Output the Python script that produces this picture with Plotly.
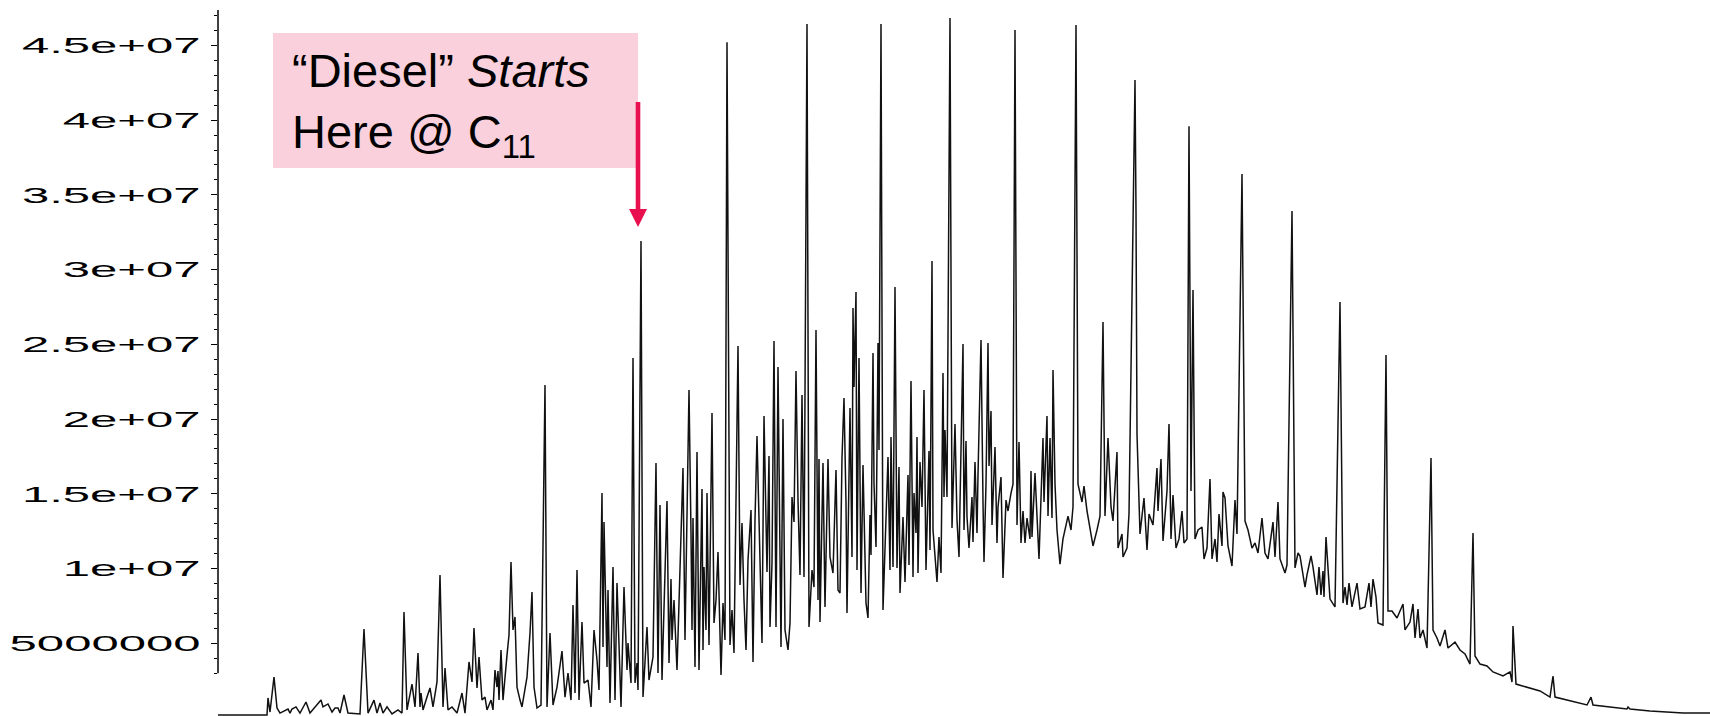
import numpy as np
import plotly.graph_objects as go

# ---------------- data: GC-FID chromatogram of diesel (retention time in s, abundance in millions) ----------------
rt_a = [0,49,50,52,56,59,62,70,72,74,78,82,88,92,103,105,110,114,117,120,122,126,130,142,146,150,156,159,162,165,
        169,174,180,184,186,189,194,197,200,202,203,205,209,212,215,219,222,225,227,230,234,239,244,247,251,254,256,259,261,264,
        267,269,273,275,277,279,280,281,283,285,289,291,293,295,297,299,302,304,309,312,314,316,319,323,327,329,332,335,339]
ab_a = [0.20,0.20,1.34,0.40,2.74,0.67,0.33,0.60,0.33,0.60,0.74,0.33,1.07,0.33,1.20,0.74,0.94,0.40,0.67,0.67,0.33,1.54,0.33,0.27,5.95,0.33,1.20,0.33,1.00,0.33,
        0.74,0.27,0.54,0.33,7.09,0.54,2.27,0.74,4.35,0.74,1.67,0.54,1.40,2.01,0.74,2.41,9.57,0.74,3.35,0.54,0.74,0.33,1.67,0.33,3.75,2.41,6.02,2.01,4.08,1.20,
        1.40,0.54,1.20,0.54,3.21,2.07,3.14,1.20,4.55,1.20,4.21,5.55,10.44,5.89,6.76,2.07,1.20,0.74,2.74,5.69,8.43,2.07,0.67,0.87,22.28,0.74,5.69,0.87,2.07]

rt_b = [344,347,350,353,355,357,359,361,364,366,370,373,376,379,381,384,385,386,389,390,
        392,395,397,399,403,406,409,410,413,415,417,419,420,423,425,429,431,435,438,440]
ab_b = [4.48,1.40,3.01,1.20,7.56,1.67,9.90,1.20,6.42,2.34,2.54,0.74,5.89,3.88,1.87,15.05,4.75,13.11,3.41,8.56,
        1.00,10.10,1.20,9.03,0.74,8.76,3.21,5.02,2.34,24.08,2.34,3.68,1.87,31.91,1.40,6.09,2.54,4.08,17.06,3.01]

rt_c = [442,444,449,451,453,454,456,459,465,467,471,473,474,475,477,479,481,484,485,486,
        488,489,491,494,496,498,500,503,505,507,509,512,514,516,520,522,524,526,528,530,
        533,535,537,539,542,544,546,549,551,552,554,556,558,560,563,565,567,570,572,574,
        576,578,580,582,584,586,589,591,594,596,598,599,600,601,602,605,607,610]
ab_c = [14.25,2.54,14.52,3.68,9.30,5.22,7.89,3.21,16.73,5.22,21.94,12.38,5.89,13.38,3.41,17.80,3.21,15.32,4.55,10.10,
        5.89,15.05,4.88,20.40,6.36,7.89,11.11,2.88,7.69,5.22,45.22,4.88,7.23,4.35,24.89,8.90,13.05,7.89,4.55,10.57,
        13.92,3.75,13.25,18.87,9.23,5.02,20.20,9.77,17.53,6.09,10.37,25.22,6.09,23.48,4.75,20.00,5.89,4.55,6.36,14.78,
        13.11,23.21,14.58,9.57,21.61,9.43,46.43,6.09,9.90,8.76,25.96,17.39,7.89,17.33,6.42,17.06,7.43,17.33]

rt_d = [612,615,618,620,622,624,626,628,629,632,634,635,636,638,639,641,643,645,648,650,
        652,653,655,656,658,659,660,661,663,665,667,670,672,673,675,677,679,681,682,684,
        685,687,690,691,693,695,696,698,699,700,702,704,706,708,711,712,714,715,719,721,
        723,725,726,727,729,732,734,737,739,741,745,746,748,749,751,754,755,757,759]
ab_d = [10.77,9.70,16.59,8.56,8.36,17.39,21.41,14.38,7.02,20.74,10.77,27.43,22.14,28.50,9.90,24.08,8.36,16.93,7.69,6.69,
        13.58,10.90,24.42,15.72,11.44,17.93,25.09,17.93,46.43,7.23,11.24,17.46,9.90,18.80,10.10,28.83,10.04,16.79,8.36,12.78,
        13.45,9.10,16.26,10.24,22.55,9.43,15.05,12.38,18.80,9.70,17.13,14.12,21.94,9.90,17.86,11.24,30.57,12.58,9.10,12.11,
        9.70,23.08,14.78,19.27,14.78,46.83,12.71,19.67,13.25,10.77,25.02,12.58,18.53,13.45,11.37,14.78,11.77,17.13,12.38]

rt_e = [760,763,765,766,768,770,771,773,774,777,779,780,783,785,788,790,793,795,797,799,
        801,803,805,807,809,812,813,814,817,819,821,825,826,829,830,832,834,835,837,839,
        842,845,850,853,855,858,860,864,866,869,872,875,879,882,885,887,890,893,895,899,
        900,904,905,909,911,917,918,919,922,926,929,931,935,939,940,943,945,949,951,953,
        955,958,961,964,966,969,971,973,975,977,980,984,986,989,992,994,997,999,1001,1004,
        1005,1007,1010,1014,1017,1019,1024,1027,1030,1034,1037,1040,1044,1047,1050,1055,1057,1060,1062,1067,
        1069,1074,1077,1080]
ab_e = [16.26,25.29,14.45,10.44,15.65,25.09,16.86,20.54,12.91,18.13,11.71,14.12,16.12,9.37,14.58,13.85,15.05,15.65,46.03,12.91,
        18.46,11.71,13.85,11.71,13.38,11.98,16.52,12.11,16.39,13.85,10.64,18.73,14.45,20.20,13.51,18.73,13.38,23.28,15.65,12.58,
        10.30,11.98,13.51,12.58,14.12,46.36,15.65,14.45,15.52,13.85,12.58,11.51,12.58,13.51,26.49,13.51,18.73,14.12,13.18,17.80,
        11.37,12.31,10.77,11.37,13.65,42.68,33.85,19.00,12.31,14.72,11.24,13.65,12.91,16.73,13.85,17.33,11.84,15.19,19.67,11.98,
        14.92,11.37,11.98,13.85,11.71,11.98,39.60,15.19,28.63,11.98,12.58,12.78,10.64,11.37,15.99,10.64,11.98,10.44,13.65,11.51,
        15.12,14.72,11.51,10.17,14.58,12.31,36.39,13.18,12.58,11.37,11.71,11.04,13.38,11.04,10.64,13.11,10.77,14.45,10.64,9.70,
        10.24,33.92,10.04,11.04]

rt_f = [1082,1085,1087,1089,1093,1095,1099,1101,1103,1105,1106,1108,1110,1112,1117,1122,1125,1127,1129,1131,
        1134,1139,1142,1147,1151,1153,1155,1158,1160,1165,1168,1170,1174,1179,1185,1187,1192,1195,1197,1200,
        1202,1205,1209,1213,1215,1219,1222,1227,1230,1237,1242,1247,1252,1255,1257,1262,1269,1275,1285,1292,
        1294,1295,1298,1309,1322,1332,1335,1337,1352,1369,1373,1375,1392,1409,1410,1412,1432,1465,1492]
ab_f = [10.84,9.57,8.76,9.57,10.84,10.10,8.23,10.10,8.23,9.83,8.09,12.11,9.57,7.96,7.43,27.83,7.69,8.76,7.56,9.03,
        7.43,9.03,7.29,7.43,9.03,7.43,9.30,8.09,6.36,6.22,24.28,7.16,7.16,6.69,7.63,5.89,6.42,7.63,5.35,7.29,
        5.35,5.89,4.68,17.39,5.89,5.35,4.82,5.89,4.68,5.08,4.55,4.28,3.61,12.38,4.15,3.61,3.48,3.08,2.81,3.08,
        2.41,6.15,2.27,2.07,1.81,1.40,2.81,1.40,1.14,0.87,1.40,0.87,0.74,0.60,0.74,0.60,0.47,0.33,0.33]

tick_values = [5e6, 1e7, 1.5e7, 2e7, 2.5e7, 3e7, 3.5e7, 4e7, 4.5e7]
tick_labels = ["5000000", "1e+07", "1.5e+07", "2e+07", "2.5e+07", "3e+07", "3.5e+07", "4e+07", "4.5e+07"]
minor_tick_values = [v * 1e6 for v in range(3, 48) if v % 5 != 0]

annotation_text = "“Diesel” <i>Starts</i><br>Here @ C<sub>11</sub>"

# ---------------- assemble ----------------
segments = [(rt_a, ab_a), (rt_b, ab_b), (rt_c, ab_c), (rt_d, ab_d), (rt_e, ab_e), (rt_f, ab_f)]
for r, a in segments:
    assert len(r) == len(a), (len(r), len(a))
rt = np.concatenate([np.array(r, float) for r, _ in segments])
abundance = np.concatenate([np.array(a, float) for _, a in segments]) * 1e6

W, H = 1710, 716
ML, MT = 218, 10
PW, PH = W - ML, H - MT
Y_MIN, Y_MAX = 0.134e6, 47.37e6


def paper_x(px):
    return (px - ML) / PW


def paper_y(py):
    return (H - py) / PH


FONT = "Liberation Sans, Arial, Helvetica, sans-serif"
ARROW_RED = "#E8104F"

arrow_head = "M {:.5f} {:.5f} L {:.5f} {:.5f} L {:.5f} {:.5f} Z".format(
    paper_x(629), paper_y(209), paper_x(647), paper_y(209), paper_x(638), paper_y(227))

fig = go.Figure()
fig.add_trace(go.Scatter(x=rt, y=abundance, mode="lines",
                         line=dict(color="#111111", width=1.5),
                         hoverinfo="skip", showlegend=False))

fig.update_layout(
    width=W, height=H,
    margin=dict(l=ML, r=0, t=MT, b=0, pad=0),
    paper_bgcolor="white", plot_bgcolor="white",
    showlegend=False,
    xaxis=dict(visible=False, range=[0, 1492]),
    yaxis=dict(
        range=[Y_MIN, Y_MAX],
        tickmode="array", tickvals=tick_values, ticktext=tick_labels,
        ticks="outside", ticklen=6, tickwidth=1.2, tickcolor="black",
        showline=False, showgrid=False, zeroline=False,
        tickfont=dict(family=FONT, size=22, color="black"),
        ticklabelstandoff=6,
        minor=dict(tickmode="array", tickvals=minor_tick_values, ticks="outside",
                   ticklen=3.5, tickwidth=1, tickcolor="black", showgrid=False),
    ),
    shapes=[
        dict(type="line", xref="paper", yref="y", x0=0, x1=0, y0=3e6, y1=Y_MAX,
             line=dict(color="black", width=1.5)),
        dict(type="rect", xref="paper", yref="paper",
             x0=paper_x(273), x1=paper_x(638), y0=paper_y(168), y1=paper_y(33),
             fillcolor="#F9D0DC", line=dict(width=0), layer="below"),
        dict(type="line", xref="paper", yref="paper",
             x0=paper_x(638), x1=paper_x(638), y0=paper_y(102), y1=paper_y(211),
             line=dict(color=ARROW_RED, width=4.6)),
        dict(type="path", xref="paper", yref="paper", path=arrow_head,
             fillcolor=ARROW_RED, line=dict(width=0)),
    ],
    annotations=[
        dict(xref="paper", yref="paper", x=paper_x(290), y=paper_y(104),
             xanchor="left", yanchor="middle", align="left", showarrow=False,
             text=annotation_text, font=dict(family=FONT, size=47, color="black")),
    ],
)

post = """
document.querySelectorAll('.ytick text').forEach(function(t){
  var w = t.getComputedTextLength();
  t.setAttribute('textLength', (w*2.23).toFixed(1));
  t.setAttribute('lengthAdjust', 'spacingAndGlyphs');
});
"""

fig.write_html("out.html", config={"displayModeBar": False}, post_script=post)
